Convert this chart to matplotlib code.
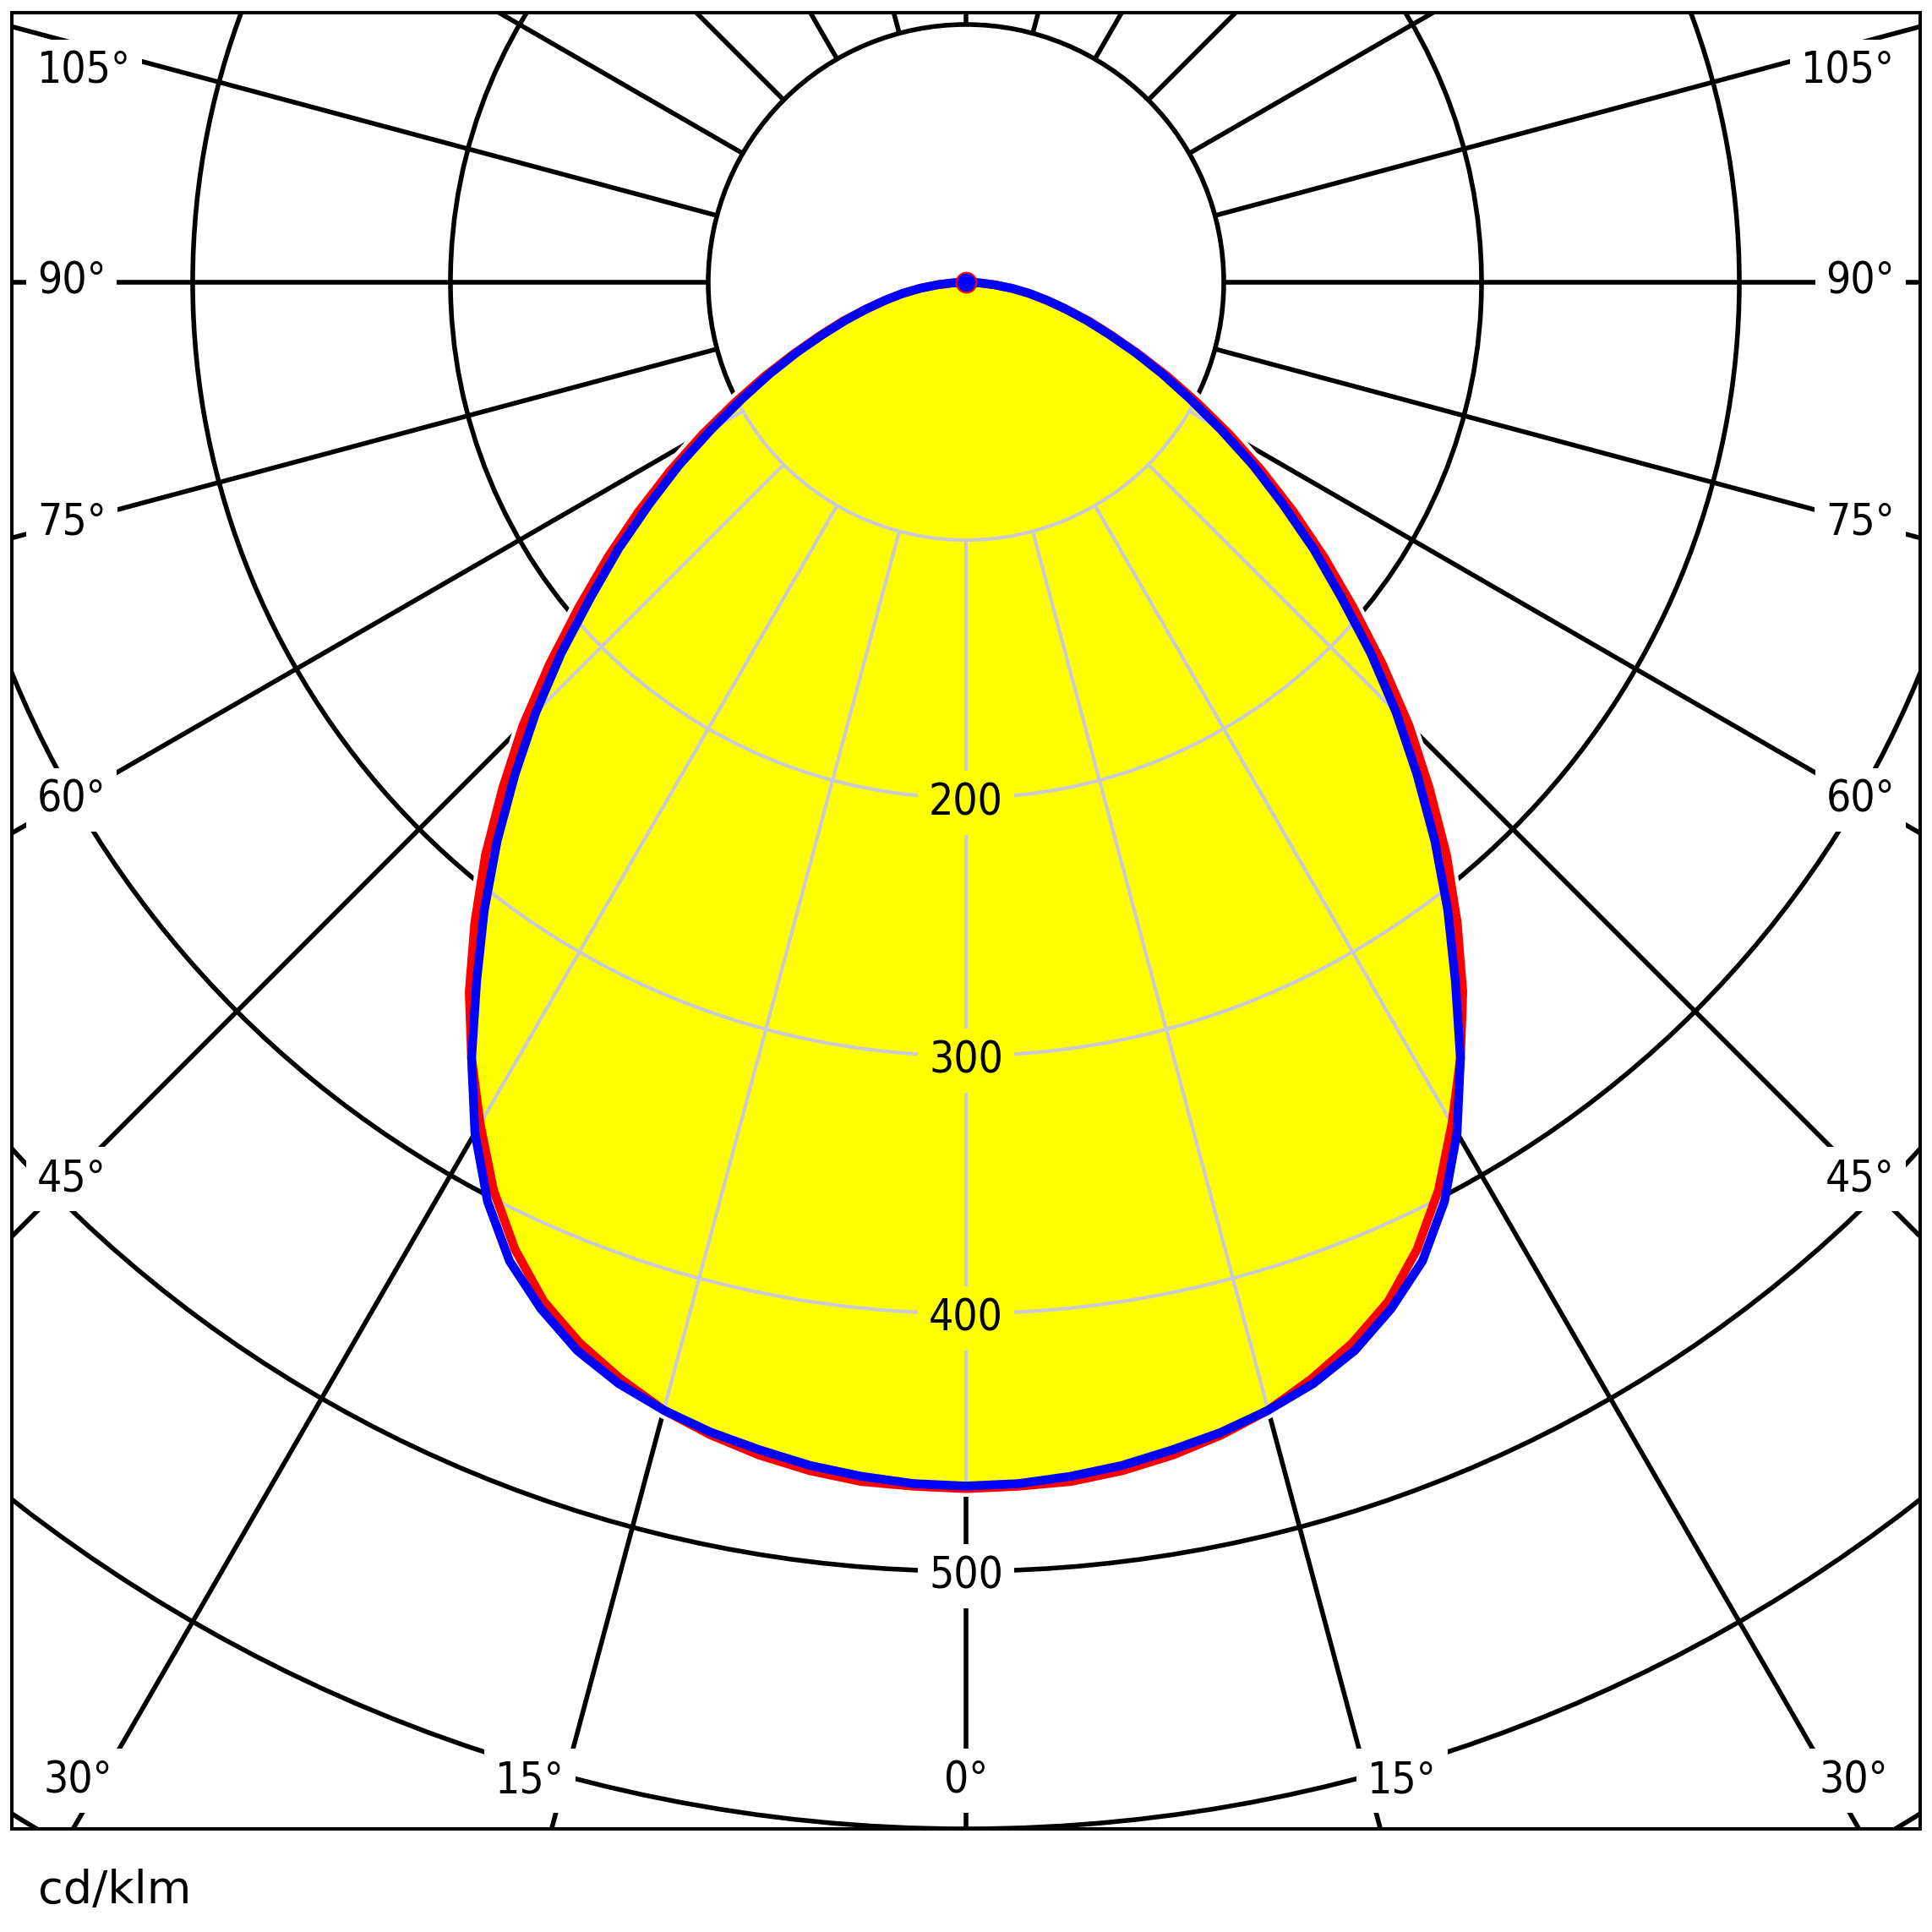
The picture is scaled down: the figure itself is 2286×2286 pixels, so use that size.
"""
Polar luminous intensity diagram (cd/klm), C0-C180 red / C90-C270 blue.
"""

import numpy as np
import matplotlib
matplotlib.use("Agg")
import matplotlib.pyplot as plt
import matplotlib.font_manager as fm
from matplotlib.patches import Circle, Polygon

# ---------------------------------------------------------------------------
# Data (angle from nadir, intensity in cd/klm)
# ---------------------------------------------------------------------------

ANGLES = [0, 2.5, 5, 7.5, 10, 12.5, 15, 17.5, 20, 22.5, 25, 27.5, 30, 32.5, 35,
          37.5, 40, 42.5, 45, 47.5, 50, 52.5, 55, 57.5, 60, 62.5, 65, 67.5, 70,
          72.5, 75, 77.5, 80, 82.5, 85, 87.5, 90]
C0_C180 = [468, 467.5, 467, 465, 462, 458, 453, 446, 438, 428, 414, 397, 377, 357,
           336, 313, 290, 266, 243, 219, 196, 175, 155, 136, 118, 101, 86, 72, 60,
           50, 40, 32, 25, 18, 11, 5, 0]
C90_C270 = [467, 466.5, 465, 463, 460, 457, 453, 448, 441, 431, 419, 402, 381, 357,
            331, 307, 283, 259, 236, 213, 190, 170, 150, 132, 114, 98, 84, 71, 59,
            49, 40, 32, 25, 18, 11, 5, 0]

RINGS        = [100, 200, 300, 400, 500, 600, 700]
RING_LABELS  = [200, 300, 400, 500]
ANGLE_LABELS = [0, 15, 30, 45, 60, 75, 90, 105]
UNIT = "cd/klm"

# ---------------------------------------------------------------------------
# Layout / style
# ---------------------------------------------------------------------------

W = 2286
PX = 3.05                       # pixels per cd/klm
XMAX = (2272 - 14) / 2 / PX
YMAX = (334 - 15) / PX
YMIN = -(2164 - 334) / PX

YELLOW = "#ffff00"
GRID_LIGHT = "#cacad6"
RED, BLUE = "#ff0000", "#0000ff"

cond = [f for f in fm.findSystemFonts() if f.endswith("DejaVuSansCondensed.ttf")]
LABEL_FONT = fm.FontProperties(fname=cond[0]) if cond else fm.FontProperties(family="DejaVu Sans")
LABEL_FONT.set_size(37)


def xy(theta_deg, r, side=1):
    t = np.radians(np.asarray(theta_deg, dtype=float))
    r = np.asarray(r, dtype=float)
    return side * r * np.sin(t), -r * np.cos(t)


def draw_grid(ax, color, lw, z, clip=None):
    arts = []
    for r in RINGS:
        c = Circle((0, 0), r, fill=False, ec=color, lw=lw, zorder=z)
        ax.add_patch(c)
        arts.append(c)
    for a in range(0, 360, 15):
        t = np.radians(a)
        ln, = ax.plot([100 * np.sin(t), 1200 * np.sin(t)],
                      [-100 * np.cos(t), -1200 * np.cos(t)],
                      color=color, lw=lw, zorder=z, solid_capstyle="butt")
        arts.append(ln)
    if clip is not None:
        for a in arts:
            a.set_clip_path(clip)


def outline(data):
    # right half from 90 down to 0, then left half from 0 up to 90
    rx, ry = xy(ANGLES[::-1], data[::-1], 1)
    lx, ly = xy(ANGLES, data, -1)
    return np.r_[rx, lx], np.r_[ry, ly]


fig = plt.figure(figsize=(W / 100, W / 100), dpi=100)
ax = fig.add_axes([14 / W, (W - 2164) / W, 2258 / W, 2149 / W])
ax.set_xlim(-XMAX, XMAX)
ax.set_ylim(YMIN, YMAX)
ax.set_xticks([])
ax.set_yticks([])
for sp in ax.spines.values():
    sp.set_linewidth(2.9)
    sp.set_zorder(20)

# black grid
draw_grid(ax, "black", 4.0, 1)

px, py = outline(C0_C180)
poly_xy = np.column_stack([px, py])
ax.add_patch(Polygon(poly_xy, closed=True, fill=False, ec="white", lw=14, zorder=2))
fill = Polygon(poly_xy, closed=True, fc=YELLOW, ec="none", zorder=3)
ax.add_patch(fill)

# light grid inside the fill
draw_grid(ax, GRID_LIGHT, 3.0, 4, clip=fill)

for data, col, z in [(C0_C180, RED, 5), (C90_C270, BLUE, 6)]:
    cx, cy = outline(data)
    ax.plot(cx, cy, color=col, lw=7.5, zorder=z, solid_joinstyle="round")
ax.plot([0], [0], "o", ms=17, mfc=BLUE, mec=RED, mew=1.5, zorder=7)

# ring value labels
for r in RING_LABELS:
    inside = r < C0_C180[0]
    ax.text(0, -r - 2, str(r), ha="center", va="center", fontproperties=LABEL_FONT,
            zorder=8, bbox=dict(boxstyle="square,pad=0.25",
                                fc=YELLOW if inside else "white", ec="none"))

# angle labels
x_edge = XMAX - 30 / PX
x_mid = XMAX - 68 / PX
x_bot_max = XMAX - 119 / PX
y_top = YMAX - 70 / PX
y_bot = YMIN + 57 / PX
for a in ANGLE_LABELS:
    t = np.radians(a)
    for side in (-1, 1):
        if a == 0 and side == 1:
            continue
        xb = -y_bot * np.tan(t) if a < 90 else np.inf
        if abs(xb) < x_mid:
            ha = "center" if a == 0 else ("right" if side < 0 else "left")
            x, y = side * min(xb, x_bot_max), y_bot
        else:
            x = side * x_edge
            y = min(-x_mid / np.tan(t) if a != 90 else 0.0, y_top)
            ha = "left" if side < 0 else "right"
        ax.text(x, y, f"{a}°", ha=ha, va="center", fontproperties=LABEL_FONT,
                zorder=8, bbox=dict(boxstyle="square,pad=0.25", fc="white", ec="none"))

fig.text(45 / W, 1 - 2252 / W, UNIT, ha="left", va="baseline",
         fontsize=39, family="DejaVu Sans")

fig.savefig("out.png", dpi=100, facecolor="white")
